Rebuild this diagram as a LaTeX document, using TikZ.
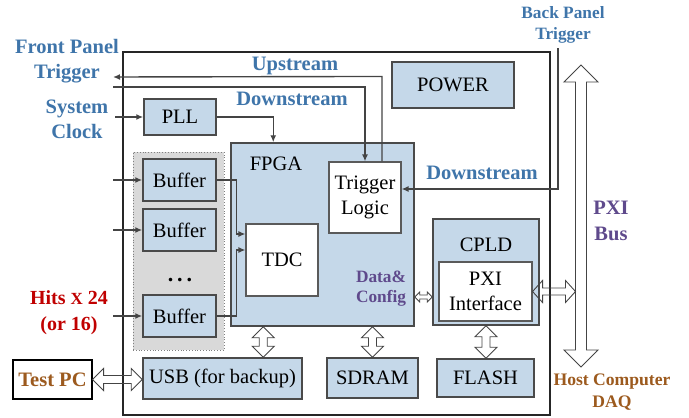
\documentclass[tikz,border=0pt]{standalone}
\usepackage{fontspec}
\setmainfont{Liberation Serif}
\usetikzlibrary{calc,arrows.meta}

\definecolor{boxfill}{HTML}{C5D8E9}
\definecolor{boxline}{HTML}{4A4A4A}
\definecolor{wline}{HTML}{5A5A5A}
\definecolor{linegray}{HTML}{444444}
\definecolor{grpfill}{HTML}{D9D9D9}
\definecolor{lblblue}{HTML}{3F75AA}
\definecolor{lblpurple}{HTML}{5F4A8C}
\definecolor{lblbrown}{HTML}{9C5A1E}
\definecolor{lblred}{HTML}{C00000}

\newcommand\fsmain{\fontsize{20.5}{25}\selectfont}
\newcommand\fssmall{\fontsize{17.3}{21}\selectfont}

% hollow double arrow, vertical: x taken from #1, from #1 (top) to #2 (bottom)
% #3 head length, #4 head half width, #5 shaft half width
\newcommand\hollowV[5]{%
  \draw[hollow] let \p1=(#1), \p2=(#2) in
    (\x1,\y1) -- (\x1+#4pt,\y1-#3pt) -- (\x1+#5pt,\y1-#3pt) -- (\x1+#5pt,\y2+#3pt)
    -- (\x1+#4pt,\y2+#3pt) -- (\x1,\y2) -- (\x1-#4pt,\y2+#3pt) -- (\x1-#5pt,\y2+#3pt)
    -- (\x1-#5pt,\y1-#3pt) -- (\x1-#4pt,\y1-#3pt) -- cycle;}
% hollow double arrow, horizontal: y taken from #1, from #1 (left) to #2 (right)
\newcommand\hollowH[5]{%
  \draw[hollow] let \p1=(#1), \p2=(#2) in
    (\x1,\y1) -- (\x1+#3pt,\y1+#4pt) -- (\x1+#3pt,\y1+#5pt) -- (\x2-#3pt,\y1+#5pt)
    -- (\x2-#3pt,\y1+#4pt) -- (\x2,\y1) -- (\x2-#3pt,\y1-#4pt) -- (\x2-#3pt,\y1-#5pt)
    -- (\x1+#3pt,\y1-#5pt) -- (\x1+#3pt,\y1-#4pt) -- cycle;}

\begin{document}
\begin{tikzpicture}[x=1pt,y=-1pt,
  box/.style={draw=boxline, fill=boxfill, line width=1.5pt, inner sep=0pt, font=\fsmain, align=center},
  wbox/.style={draw=wline, fill=white, line width=1.1pt, inner sep=0pt, font=\fsmain, align=center},
  lbl/.style={inner sep=0pt, align=center, font=\bfseries\fsmain, text=lblblue},
  conn/.style={draw=linegray, line width=1.4pt},
  tip/.style={-{Latex[length=7pt,width=6pt]}},
  hollow/.style={draw=linegray, line width=0.9pt, line join=miter}]
\useasboundingbox (0,0) rectangle (689,418);

% board outline
\draw[line width=1.4pt, black!85] (123,52) rectangle (550,415);

% buffer group background
\node[draw=gray, dotted, fill=grpfill, line width=0.8pt, minimum width=91pt, minimum height=198pt] (grp) at (178.5,251) {};

% blocks
\node[box, minimum width=72pt, minimum height=36pt] (pll) at (180,117) {PLL};
\node[box, minimum width=122pt, minimum height=46pt] (power) at (453,85) {POWER};
\node[box, minimum width=183pt, minimum height=183pt] (fpga) at (322.5,234.5) {};
\node[inner sep=0pt, font=\fsmain] (fpgalbl) at (276,164) {FPGA};
\node[wbox, minimum width=72pt, minimum height=71pt] (trig) at (365,197.5) {Trigger\\Logic};
\node[wbox, minimum width=72pt, minimum height=72pt] (tdc) at (282,260) {TDC};
\node[box, minimum width=73pt, minimum height=42pt] (buf1) at (179.5,180) {Buffer};
\node[box, minimum width=73pt, minimum height=42pt] (buf2) at (179.5,230) {Buffer};
\node[box, minimum width=73pt, minimum height=42pt] (buf3) at (179.5,316) {Buffer};
\node[inner sep=0pt, anchor=base, font=\bfseries\fontsize{22}{22}\selectfont] (dots) at (180,281) {.\kern4pt.\kern4pt.};
\node[box, minimum width=106pt, minimum height=106pt] (cpld) at (486,272) {};
\node[inner sep=0pt, font=\fsmain] (cpldlbl) at (486,245) {CPLD};
\node[wbox, minimum width=93pt, minimum height=59pt] (pxi) at (485.5,291.5) {PXI\\Interface};
\node[box, minimum width=159pt, minimum height=41pt] (usb) at (222.5,378.5) {USB (for backup)};
\node[box, minimum width=91pt, minimum height=40pt] (sdram) at (372.5,378) {SDRAM};
\node[box, minimum width=97pt, minimum height=38pt] (flash) at (485.5,378) {FLASH};
\node[draw=black, fill=white, line width=1.1pt, minimum width=79pt, minimum height=39pt, inner sep=0pt,
      font=\bfseries\fsmain, text=lblbrown] (tpc) at (52.5,379.5) {Test PC};

% outside labels
\node[lbl] (fptlbl) at (67,61) {Front Panel\\Trigger};
\node[lbl] (clklbl) at (77,119) {System\\Clock};
\node[lbl] (uplbl) at (295,66) {Upstream};
\node[lbl] (dnlbl) at (292,99) {Downstream};
\node[lbl] (dnlbl2) at (482,173) {Downstream};
\node[lbl, font=\bfseries\fssmall] (bptlbl) at (563,25) {Back Panel\\Trigger};
\node[lbl, text=lblpurple, font=\bfseries\fontsize{20.5}{26}\selectfont] (buslbl) at (611,221) {PXI\\Bus};
\node[lbl, text=lblbrown, font=\bfseries\fontsize{17.6}{22}\selectfont] (hostlbl) at (612,392) {Host Computer\\DAQ};
\node[lbl, text=lblred, font=\bfseries\fontsize{20}{26}\selectfont] (hitslbl) at (69,313) {Hits {\fontsize{17}{20}\selectfont X} 24\\(or 16)};
\node[lbl, text=lblpurple, font=\bfseries\fontsize{17.3}{20}\selectfont] (dclbl) at (381,289) {Data\&\\Config};

% free ends of the signal lines
\coordinate (fptout) at (113,77);
\coordinate (fptin) at (113,87);
\coordinate (clkin) at (115,117);
\coordinate (bptin) at (558,48);
\coordinate (hit1) at (113,180);
\coordinate (hit2) at (113,230);
\coordinate (hit3) at (113,316);
\coordinate (bustop) at (581,65);
\coordinate (busbot) at (581,367);

% trigger paths
\draw[conn, tip] ($(trig.north)+(17,0)$) -- ++(0,-85) -- (fptout);
\draw[conn, tip] (fptin) -| (trig.north);
\draw[conn, tip] (bptin) |- ($(trig.east)+(0,-8.5)$);

% clock
\draw[conn, tip] (clkin) -- (pll.west);
\draw[conn, tip] (pll.east) -| ($(fpga.north west)+(43,0)$);

% hit inputs
\draw[conn, tip] (hit1) -- (buf1.west);
\draw[conn, tip] (hit2) -- (buf2.west);
\draw[conn, tip] (hit3) -- (buf3.west);
\draw[conn, tip] (buf1.east) -- ++(20,0) |- ($(tdc.west)+(0,-26)$);
\draw[conn, tip] (buf3.east) -- ++(20,0) |- ($(tdc.west)+(0,-10)$);

% data buses
\hollowV{bustop}{busbot}{17}{17}{5.5}
\hollowH{tpc.east}{usb.west}{11}{11}{4}
\hollowV{$(fpga.south west)+(33,0)$}{usb.north}{11}{11}{4}
\hollowV{sdram.north |- fpga.south}{sdram.north}{11}{11}{4}
\hollowV{cpld.south}{flash.north}{11}{11}{4}
\hollowH{$(fpga.east)+(0,62.5)$}{$(cpld.west)+(0,25)$}{5}{5}{2}
\hollowH{pxi.east}{$(bustop)+(-5.5,0)$}{10}{11}{3.5}
\end{tikzpicture}
\end{document}
